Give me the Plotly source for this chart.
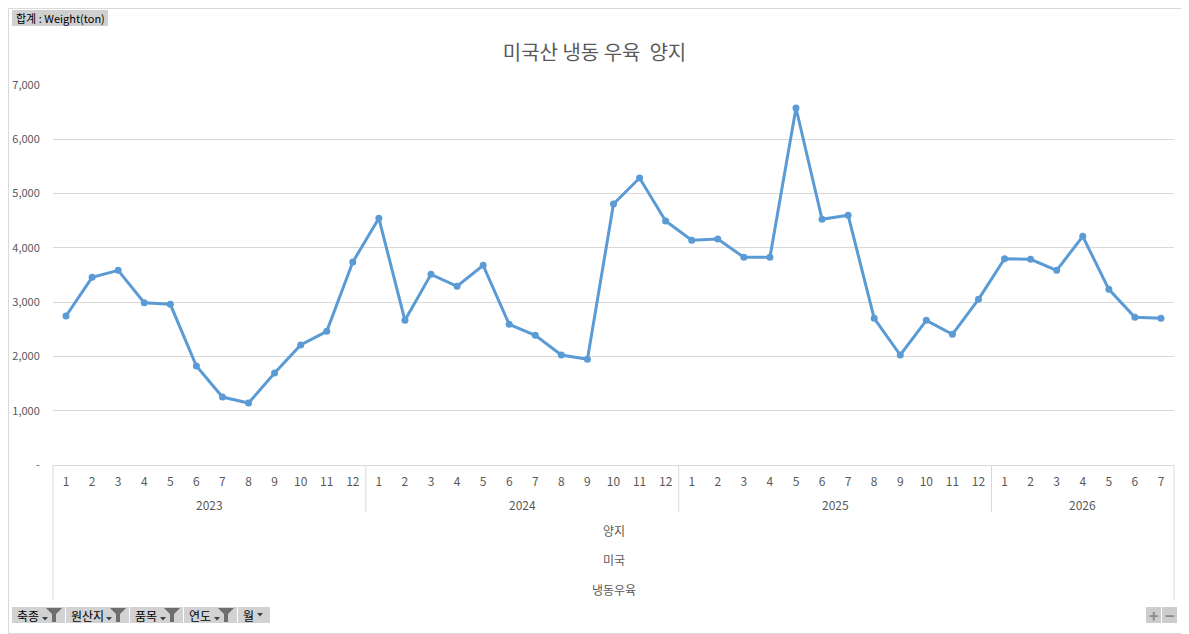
import plotly.graph_objects as go

# 데이터 (피벗 차트: 합계 : Weight(ton))
years = ['2023', '2024', '2025', '2026']
months_per_year = [12, 12, 12, 7]
weights = [
    2745, 3457, 3586, 2990, 2960, 1823, 1252, 1142, 1694, 2210, 2462, 3739,
    4544, 2665, 3512, 3292, 3678, 2591, 2389, 2026, 1947, 4807, 5286, 4494,
    4139, 4163, 3826, 3826, 6576, 4526, 4600, 2702, 2026, 2665, 2407, 3052,
    3800, 3789, 3586, 4212, 3236, 2720, 2702,
]
row_fields = ['양지', '미국', '냉동우육']
filter_fields = ['축종', '원산지', '품목', '연도', '월']
y_ticks = [0, 1000, 2000, 3000, 4000, 5000, 6000, 7000]

# 페이지 body 여백(8px) 만큼 보정
OFF = 8
W, H = 1189 - OFF, 634 - OFF
L, R, T, B = 53, 15, 85, 169
PW, PH = 1189 - L - R, 634 - T - B

FONT = "Noto Sans CJK KR, Malgun Gothic, sans-serif"
GRAY = '#595959'
LINE = '#d9d9d9'


def px(x):
    return (x - L) / PW


def py(y):
    return (634 - B - y) / PH


month_labels = []
for n in months_per_year:
    month_labels += [str(m) for m in range(1, n + 1)]
idx = list(range(len(weights)))

fig = go.Figure()
fig.add_trace(go.Scatter(
    x=idx, y=weights, mode='lines+markers',
    line=dict(color='#5B9BD5', width=3),
    marker=dict(color='#5B9BD5', size=7),
    showlegend=False,
))

shapes = []
annotations = []


def label(x, y, text, xref='paper', xanchor='center', size=12, color=GRAY):
    annotations.append(dict(x=x, y=y, xref=xref, yref='paper', text=text,
                            xanchor=xanchor, yanchor='middle', showarrow=False,
                            font=dict(size=size, color=color)))


# 카테고리 표 테두리
for xp in (0, 1):
    shapes.append(dict(type='line', xref='paper', yref='paper', x0=xp, x1=xp,
                       y0=0, y1=py(600), line=dict(color=LINE, width=1)))
start = 0
for yr, n in zip(years, months_per_year):
    end = start + n
    if end < len(weights):
        shapes.append(dict(type='line', xref='x', yref='paper', x0=end - 0.5, x1=end - 0.5,
                           y0=0, y1=py(512), line=dict(color=LINE, width=1)))
    label((start + end - 1) / 2, py(504), yr, xref='x')
    start = end

for i, f in enumerate(row_fields):
    label(0.5, py(530 + i * 29.5), f)

# 바깥 테두리
shapes.append(dict(type='rect', xref='paper', yref='paper', x0=px(OFF + 0.5), x1=px(1188.5),
                   y0=py(633.5), y1=py(OFF + 0.5), line=dict(color=LINE, width=1)))

# 값 필드 버튼
shapes.append(dict(type='rect', xref='paper', yref='paper', x0=px(12), x1=px(108),
                   y0=py(26), y1=py(10), line=dict(width=0), fillcolor='#d0d0d0'))
label(px(14), py(18), '합계 : Weight(ton)', xanchor='left', size=11, color='#000000')

# 필터 버튼
btn_x = [(12, 65), (66, 129), (130, 183), (184, 237), (238, 270)]
for (x0, x1), name in zip(btn_x, filter_fields):
    shapes.append(dict(type='rect', xref='paper', yref='paper', x0=px(x0), x1=px(x1),
                       y0=py(623), y1=py(607), line=dict(width=0), fillcolor='#d2d2d2'))
    label(px(x0 + 3), py(615), name, xanchor='left', color='#000000')
    if name != '월':
        fx = x1 - 19
        tri = (fx - 4, 617)
        path = 'M {} {} L {} {} L {} {} L {} {} L {} {} L {} {} Z'.format(
            px(fx), py(608), px(fx + 16), py(608), px(fx + 10), py(614),
            px(fx + 10), py(622), px(fx + 6), py(622), px(fx + 6), py(614))
        shapes.append(dict(type='path', xref='paper', yref='paper', path=path,
                           line=dict(width=0), fillcolor='#6e6e6e'))
    else:
        tri = (x1 - 13, 613)
    tpath = 'M {} {} L {} {} L {} {} Z'.format(
        px(tri[0]), py(tri[1]), px(tri[0] + 6), py(tri[1]), px(tri[0] + 3), py(tri[1] + 3.5))
    shapes.append(dict(type='path', xref='paper', yref='paper', path=tpath,
                       line=dict(width=0), fillcolor='#404040'))

# 확대/축소 버튼
for (x0, x1), sym in [((1146, 1161), '+'), ((1162, 1177), '−')]:
    shapes.append(dict(type='rect', xref='paper', yref='paper', x0=px(x0), x1=px(x1),
                       y0=py(623), y1=py(607), line=dict(width=0), fillcolor='#cdcdcd'))
    label(px((x0 + x1) / 2), py(615), '<b>' + sym + '</b>', size=16, color='#8c8c8c')

fig.update_layout(
    width=W, height=H,
    margin=dict(l=L - OFF, r=R, t=T - OFF, b=B),
    paper_bgcolor='white', plot_bgcolor='white',
    font=dict(family=FONT, size=12, color=GRAY),
    title=dict(text='미국산 냉동 우육  양지', x=(594.5 - OFF) / W, xref='container',
               xanchor='center', y=1 - (53 - OFF) / H, yanchor='middle',
               font=dict(size=20, color=GRAY)),
    shapes=shapes,
    annotations=annotations,
    showlegend=False,
)

fig.update_xaxes(
    range=[-0.5, len(weights) - 0.5], tickvals=idx, ticktext=month_labels,
    showgrid=False, zeroline=False, showline=True, linecolor=LINE, linewidth=1,
    ticks='outside', ticklen=6, tickcolor='rgba(0,0,0,0)',
    tickfont=dict(size=12, color=GRAY), fixedrange=True, automargin=False,
)
fig.update_yaxes(
    range=[0, 7000], tickvals=y_ticks,
    ticktext=['-' if v == 0 else f'{v:,}' for v in y_ticks],
    showgrid=True, gridcolor=LINE, gridwidth=1, zeroline=False, showline=False,
    ticks='outside', ticklen=10, tickcolor='rgba(0,0,0,0)',
    tickfont=dict(size=11, color=GRAY), fixedrange=True, automargin=False,
)

fig.write_html("out.html")
